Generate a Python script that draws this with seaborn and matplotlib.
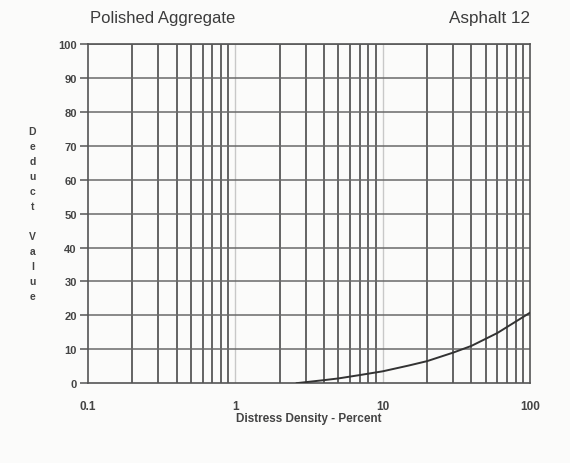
import numpy as np
import pandas as pd
import matplotlib
matplotlib.use("Agg")
import matplotlib.pyplot as plt
import seaborn as sns
from matplotlib.ticker import FixedLocator, NullFormatter

# Deduct curve for polished aggregate (asphalt)
density = [2.6, 3.0, 4.0, 5.0, 7.0, 10.0, 15.0, 20.0, 30.0, 40.0, 60.0, 100.0]
deduct = [0.0, 0.3, 0.9, 1.4, 2.4, 3.5, 5.2, 6.5, 9.0, 11.0, 14.8, 20.8]

x_ticks = [0.1, 1, 10, 100]
x_tick_labels = ["0.1", "1", "10", "100"]
y_ticks = list(range(0, 101, 10))

sns.set_style("ticks")
plt.rcParams["font.family"] = ["Liberation Sans", "DejaVu Sans"]

fig = plt.figure(figsize=(5.7, 4.64), dpi=100, facecolor="#fbfbfa")
ax = fig.add_axes([0.154, 0.172, 0.776, 0.731])
ax.set_facecolor("#fbfbfa")

df = pd.DataFrame({"density": density, "deduct": deduct})
ax.set_xscale("log")
ax.set_xlim(0.1, 100)
ax.set_ylim(0, 100)

# Log grid: minor lines 2..9 in each decade, decade lines lighter
minor = [m * 10.0 ** e for e in (-1, 0, 1) for m in range(2, 10)]
for v in minor:
    ax.axvline(v, color="#4a4a4a", lw=1.2, zorder=1)
for v in (1, 10):
    ax.axvline(v, color="#c8c8c8", lw=1.0, zorder=1)
for v in y_ticks[1:]:
    ax.axhline(v, color="#6a6a6a", lw=1.1, zorder=1)

sns.lineplot(data=df, x="density", y="deduct", ax=ax, color="#333333",
             lw=1.4, zorder=3, legend=False)

ax.xaxis.set_major_locator(FixedLocator(x_ticks))
ax.set_xticklabels(x_tick_labels, fontweight="bold")
ax.xaxis.set_minor_formatter(NullFormatter())
ax.tick_params(axis="x", which="both", length=0, pad=12, labelsize=8.5,
               labelcolor="#444444")
ax.set_yticks(y_ticks)
ax.set_yticklabels([str(v) for v in y_ticks], fontweight="bold")
ax.tick_params(axis="y", length=6, width=1.1, color="#555555", pad=2,
               labelsize=8, labelcolor="#444444")

for s in ax.spines.values():
    s.set_color("#555555")
    s.set_linewidth(1.2)

ax.set_xlabel("Distress Density - Percent", fontsize=8.5, color="#444444",
              fontweight="bold", labelpad=0)
ax.set_ylabel("")

fig.text(0.057, 0.538, "\n".join("Deduct Value"), ha="center", va="center",
         fontsize=7.5, color="#444444", fontweight="bold", linespacing=1.62)
fig.text(0.158, 0.96, "Polished Aggregate", ha="left", va="center",
         fontsize=12, color="#3c3c3c")
fig.text(0.93, 0.96, "Asphalt 12", ha="right", va="center",
         fontsize=12.3, color="#3c3c3c")

fig.savefig("out.png", dpi=100, facecolor=fig.get_facecolor())
